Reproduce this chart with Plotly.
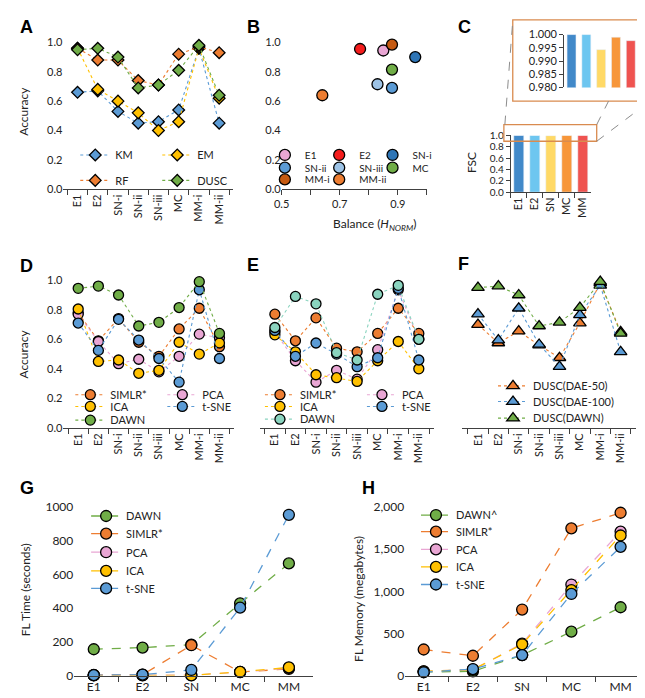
import plotly.graph_objects as go

W, H = 645, 698

# ---- data ----
cats8 = ["E1", "E2", "SN-i", "SN-ii", "SN-iii", "MC", "MM-i", "MM-ii"]
cats5 = ["E1", "E2", "SN", "MC", "MM"]

# A: clustering accuracy
a_km = [0.66, 0.67, 0.53, 0.45, 0.46, 0.54, 0.96, 0.45]
a_em = [0.96, 0.68, 0.60, 0.52, 0.40, 0.46, 0.96, 0.62]
a_rf = [0.96, 0.88, 0.88, 0.74, 0.71, 0.92, 0.97, 0.93]
a_dusc = [0.95, 0.96, 0.90, 0.69, 0.71, 0.81, 0.98, 0.64]

# B: balance vs accuracy
b_names = ["E1", "E2", "SN-i", "SN-ii", "SN-iii", "MC", "MM-i", "MM-ii"]
b_balance = [0.85, 0.77, 0.96, 0.88, 0.83, 0.88, 0.88, 0.64]
b_acc = [0.945, 0.955, 0.90, 0.69, 0.715, 0.815, 0.985, 0.64]

# C: FSC
c_fsc = [1.000, 1.000, 0.9943, 0.9990, 0.9977]

# D: feature learning + clustering (set 1)
d_simlr = [0.78, 0.59, 0.74, 0.58, 0.485, 0.67, 0.81, 0.55]
d_pca = [0.77, 0.585, 0.435, 0.465, 0.38, 0.485, 0.635, 0.61]
d_ica = [0.805, 0.45, 0.46, 0.37, 0.39, 0.58, 0.50, 0.575]
d_tsne = [0.71, 0.525, 0.735, 0.595, 0.47, 0.31, 0.935, 0.47]
d_dawn = [0.945, 0.96, 0.90, 0.69, 0.715, 0.815, 0.99, 0.64]

# E: feature learning + clustering (set 2)
e_simlr = [0.77, 0.59, 0.745, 0.54, 0.515, 0.64, 0.81, 0.64]
e_pca = [0.65, 0.455, 0.31, 0.39, 0.33, 0.53, 0.935, 0.60]
e_ica = [0.63, 0.515, 0.36, 0.34, 0.315, 0.455, 0.585, 0.40]
e_tsne = [0.66, 0.485, 0.575, 0.50, 0.415, 0.475, 0.945, 0.46]
e_dawn = [0.68, 0.89, 0.84, 0.51, 0.46, 0.905, 0.965, 0.60]

# F: DUSC variants
f_dae50 = [0.70, 0.575, 0.655, 0.56, 0.475, 0.71, 0.98, 0.65]
f_dae100 = [0.77, 0.595, 0.81, 0.565, 0.415, 0.765, 0.965, 0.515]
f_dawn = [0.95, 0.96, 0.90, 0.69, 0.715, 0.815, 0.99, 0.64]

# G: FL time (seconds)
g_dawn = [156, 166, 183, 429, 666]
g_simlr = [3, 5, 180, 21, 39]
g_pca = [2, 2, 2, 20, 45]
g_ica = [1, 1, 1, 22, 48]
g_tsne = [2, 5, 33, 403, 955]

# H: FL memory (megabytes)
h_dawn = [42, 50, 243, 521, 811]
h_simlr = [309, 235, 784, 1749, 1934]
h_pca = [50, 70, 378, 1081, 1710]
h_ica = [50, 70, 371, 1015, 1664]
h_tsne = [39, 77, 243, 969, 1529]

BLUE, ORANGE, GOLD, GREEN = "#5B9BD5", "#ED7D31", "#FFC000", "#70AD47"
PINK, TEAL = "#E9A6D4", "#8AD4BF"
b_colors = ["#E9A6D4", "#F41C1C", "#2E75B6", "#5B9BD5", "#9DC3E6", GREEN, "#C55A11", ORANGE]
c_colors = ["#4189C9", "#6DC6F0", "#FFD966", "#F7963A", "#EF5350"]

FONT = "Lato, 'Open Sans', sans-serif"
AXC = "#404040"
TXT = "#222"


def dx(a, b):
    return [a / W, b / W]


def dy(top, bot):
    return [1 - bot / H, 1 - top / H]


fig = go.Figure()
legends = {}
LX = 20  # marker offset inside a legend entry


def add_legend(mx, my, entry=None, size=11):
    key = "legend" if not legends else "legend%d" % (len(legends) + 1)
    d = dict(x=(mx - LX) / W, y=1 - my / H, xanchor="left", yanchor="middle",
             orientation="h", bgcolor="rgba(0,0,0,0)", borderwidth=0,
             font=dict(size=size, family=FONT, color=TXT))
    if entry:
        d["entrywidth"] = entry
    legends[key] = d
    return key


def line_trace(x, y, name, color, ax, leg, symbol="circle", dash="dot", size=10, lw=1.1):
    fig.add_trace(go.Scatter(
        x=x, y=y, name=name, mode="lines+markers", xaxis="x" + ax, yaxis="y" + ax,
        legend=leg, cliponaxis=False,
        line=dict(color=color, dash=dash, width=lw),
        marker=dict(symbol=symbol, size=size, color=color, line=dict(color="black", width=1.3)),
    ))


# ---- A ----
la1 = add_legend(80, 142, 37)
la2 = add_legend(80, 168, 37)
line_trace(cats8, a_km, "KM", BLUE, "", la1, "diamond", size=9)
line_trace(cats8, a_em, "EM", GOLD, "", la1, "diamond", size=9)
line_trace(cats8, a_rf, "RF", ORANGE, "", la2, "diamond", size=9)
line_trace(cats8, a_dusc, "DUSC", GREEN, "", la2, "diamond", size=9)

# ---- B ----
b_cols = [272, 327, 381]
b_rows = [142, 155, 167]
for i, (nm, bx, by, col) in enumerate(zip(b_names, b_balance, b_acc, b_colors)):
    leg = add_legend(b_cols[i % 3], b_rows[i // 3], size=10)
    fig.add_trace(go.Scatter(
        x=[bx], y=[by], name=nm, mode="markers", xaxis="x2", yaxis="y2",
        legend=leg, cliponaxis=False,
        marker=dict(size=11, color=col, line=dict(color="black", width=1.3)),
    ))

# ---- C ----
fig.add_trace(go.Bar(x=cats5, y=c_fsc, marker_color=c_colors, width=0.62,
                     xaxis="x3", yaxis="y3", showlegend=False))
fig.add_trace(go.Bar(x=cats5, y=c_fsc, marker_color=c_colors, width=0.6,
                     xaxis="x4", yaxis="y4", showlegend=False))

# ---- D ----
ld = [add_legend(75, yy, 47) for yy in (387, 399, 413)]
line_trace(cats8, d_simlr, "SIMLR*", ORANGE, "5", ld[0])
line_trace(cats8, d_pca, "PCA", PINK, "5", ld[0])
line_trace(cats8, d_ica, "ICA", GOLD, "5", ld[1])
line_trace(cats8, d_tsne, "t-SNE", BLUE, "5", ld[1])
line_trace(cats8, d_dawn, "DAWN", GREEN, "5", ld[2])

# ---- E ----
le = [add_legend(267, yy, 57) for yy in (387, 399, 412)]
line_trace(cats8, e_simlr, "SIMLR*", ORANGE, "6", le[0])
line_trace(cats8, e_pca, "PCA", PINK, "6", le[0])
line_trace(cats8, e_ica, "ICA", GOLD, "6", le[1])
line_trace(cats8, e_tsne, "t-SNE", BLUE, "6", le[1])
line_trace(cats8, e_dawn, "DAWN", TEAL, "6", le[2])

# ---- F ----
lf = [add_legend(503, yy) for yy in (378, 394, 411)]
line_trace(cats8, f_dae50, "DUSC(DAE-50)", ORANGE, "7", lf[0], "triangle-up", size=11)
line_trace(cats8, f_dae100, "DUSC(DAE-100)", BLUE, "7", lf[1], "triangle-up", size=11)
line_trace(cats8, f_dawn, "DUSC(DAWN)", GREEN, "7", lf[2], "triangle-up", size=11)

# ---- G ----
gy = [511, 529, 548, 567, 585]
for (vals, nm, col), yy in zip([(g_dawn, "DAWN", GREEN), (g_simlr, "SIMLR*", ORANGE),
                                (g_pca, "PCA", PINK), (g_ica, "ICA", GOLD),
                                (g_tsne, "t-SNE", BLUE)], gy):
    line_trace(cats5, vals, nm, col, "8", add_legend(91, yy), dash="dash", size=11, lw=1.3)

# ---- H ----
hy = [510, 527, 545, 563, 581]
for (vals, nm, col), yy in zip([(h_dawn, "DAWN^", GREEN), (h_simlr, "SIMLR*", ORANGE),
                                (h_pca, "PCA", PINK), (h_ica, "ICA", GOLD),
                                (h_tsne, "t-SNE", BLUE)], hy):
    line_trace(cats5, vals, nm, col, "9", add_legend(425, yy), dash="dash", size=11, lw=1.3)

# ---- axes ----
tf = dict(size=11, family=FONT, color=TXT)
tf12 = dict(size=12, family=FONT, color=TXT)


def cat_x(dom, anchor, angle=-90, font=tf, rng=None):
    d = dict(domain=dom, anchor=anchor, type="category", showline=True, linecolor=AXC,
             linewidth=1, ticks="outside", tickson="boundaries", ticklen=5, tickcolor=AXC,
             tickangle=angle, tickfont=font, showgrid=False, zeroline=False, fixedrange=True)
    if rng:
        d["range"] = rng
    return d


def acc_y(dom, anchor, show=True):
    return dict(domain=dom, anchor=anchor, range=[0, 1.0], dtick=0.2, tickformat=".1f",
                showline=False, showgrid=False, zeroline=False, ticks="",
                showticklabels=show, tickfont=tf)


layout = dict(
    width=W, height=H, margin=dict(l=0, r=0, t=0, b=0),
    paper_bgcolor="white", plot_bgcolor="white",
    font=dict(family=FONT, size=11, color=TXT),
    xaxis=cat_x(dx(48, 220), "y"),
    yaxis=acc_y(dy(27, 177), "x"),
    xaxis2=dict(domain=dx(269, 416), anchor="y2", range=[0.5, 1.0], tick0=0.5, dtick=0.2,
                tickformat=".1f", showline=True, linecolor=AXC, ticks="outside", ticklen=5,
                tickcolor=AXC, minor=dict(dtick=0.1, ticks="outside", ticklen=5, tickcolor=AXC),
                showgrid=False, zeroline=False, tickfont=tf),
    yaxis2=acc_y(dy(27, 177), "x2"),
    xaxis3=cat_x(dx(501, 582), "y3"),
    yaxis3=dict(domain=dy(122, 180), anchor="x3", range=[0, 1.0], dtick=0.2, tickformat=".1f",
                showline=True, linecolor=AXC, ticks="outside", ticklen=4, tickcolor=AXC,
                showgrid=False, zeroline=False, tickfont=dict(size=10, family=FONT, color=TXT)),
    xaxis4=dict(domain=dx(555, 630), anchor="y4", type="category", visible=False),
    yaxis4=dict(domain=dy(19, 73), anchor="x4", range=[0.98, 1.0], dtick=0.005,
                tickformat=".3f", showline=True, linecolor=AXC, ticks="outside", ticklen=4,
                tickcolor=AXC, showgrid=False, zeroline=False, tickfont=tf),
    xaxis5=cat_x(dx(48, 221), "y5"),
    yaxis5=acc_y(dy(270, 421), "x5"),
    xaxis6=cat_x(dx(247, 423), "y6"),
    yaxis6=acc_y(dy(270, 421), "x6", show=False),
    xaxis7=cat_x(dx(452, 628), "y7"),
    yaxis7=acc_y(dy(270, 421), "x7", show=False),
    xaxis8=cat_x(dx(59, 301), "y8", angle=0, font=tf12, rng=[-0.4, 4.5]),
    yaxis8=dict(domain=dy(502, 674), anchor="x8", range=[0, 1000], dtick=200,
                showline=False, showgrid=False, zeroline=False, tickfont=tf12),
    xaxis9=cat_x(dx(394, 631), "y9", angle=0, font=tf12),
    yaxis9=dict(domain=dy(502, 674), anchor="x9", range=[0, 2000], dtick=500, tickformat=",",
                showline=False, showgrid=False, zeroline=False, tickfont=tf12),
)
layout.update(legends)

# ---- text: panel letters and axis titles ----
ann = []
for letter, px, py in [("A", 2, 11), ("B", 232, 11), ("C", 446, 11), ("D", 2, 255),
                       ("E", 232, 254), ("F", 446, 253), ("G", 2, 482), ("H", 348, 482)]:
    ann.append(dict(text="<b>%s</b>" % letter, x=px / W, y=1 - py / H, xref="paper", yref="paper",
                    xanchor="left", yanchor="middle", showarrow=False,
                    font=dict(size=18, family="Liberation Sans, Arial", color="black")))
for txt, px, py, ang in [("Accuracy", 8, 97, -90), ("Accuracy", 8, 345, -90),
                         ("Balance (<i>H</i><sub><i>NORM</i></sub>)", 363, 213, 0),
                         ("FSC", 461, 150, -90), ("FL Time (seconds)", 10, 586, -90),
                         ("FL Memory (megabytes)", 346, 596, -90)]:
    ann.append(dict(text=txt, x=px / W, y=1 - py / H, xref="paper", yref="paper",
                    xanchor="center", yanchor="middle", showarrow=False, textangle=ang,
                    font=dict(size=12, family=FONT, color=TXT)))
layout["annotations"] = ann

# ---- C zoom decorations ----
BOX = "#D98B4F"


def prect(x0, y0, x1, y1, color, width=1.3):
    return dict(type="rect", xref="paper", yref="paper", x0=x0 / W, x1=x1 / W,
                y0=1 - y1 / H, y1=1 - y0 / H, line=dict(color=color, width=width))


def pline(x0, y0, x1, y1):
    return dict(type="line", xref="paper", yref="paper", x0=x0 / W, x1=x1 / W,
                y0=1 - y0 / H, y1=1 - y1 / H, line=dict(color="#8C8C8C", width=1, dash="dash"))


layout["shapes"] = [
    prect(503, 4, 642, 87, BOX),
    prect(494, 111, 588, 128, BOX),
    pline(495, 111, 503, 5),
    pline(588, 111, 600, 87),
    pline(588, 128, 642, 87),
]

fig.update_layout(**layout)
fig.write_html("out.html")
